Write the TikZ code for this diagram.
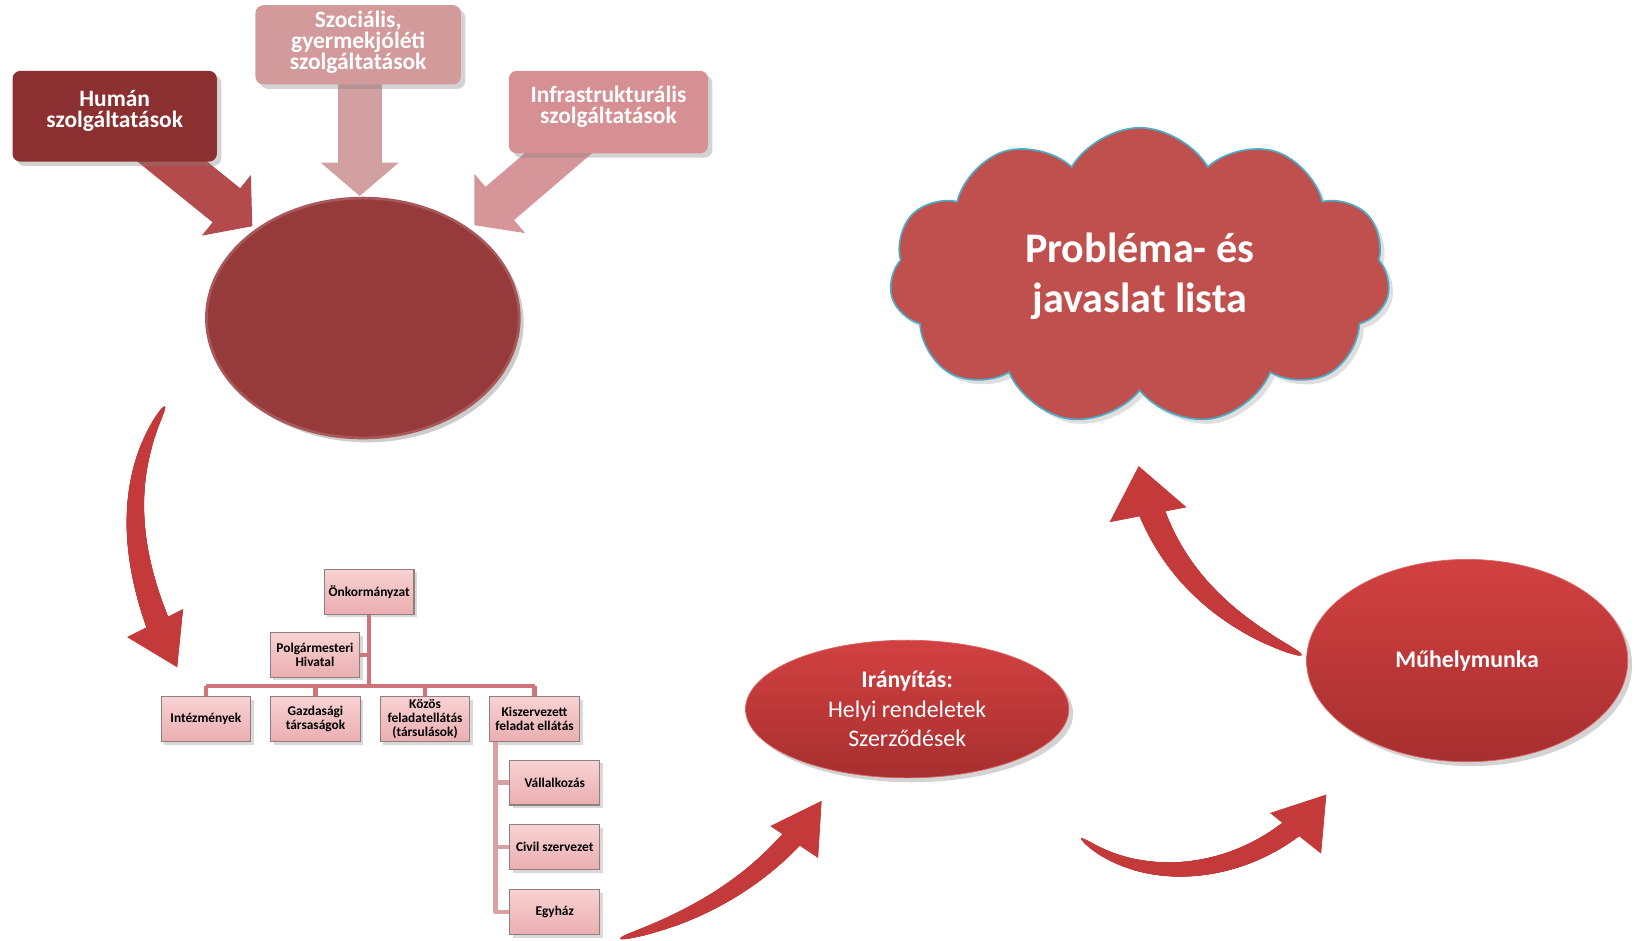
\documentclass[tikz,border=0pt]{standalone}
\usepackage{fontspec}
\setmainfont{Carlito}
\usetikzlibrary{positioning,shapes.geometric,shapes.symbols,arrows.meta,shadows,decorations.markings}
\definecolor{humanred}{HTML}{8B2F31}
\definecolor{humanarr}{HTML}{B34B4C}
\definecolor{szocpink}{HTML}{D39A9C}
\definecolor{szocarr}{HTML}{D3A0A2}
\definecolor{infrapink}{HTML}{D68F92}
\definecolor{infraarr}{HTML}{D69598}
\definecolor{discred}{HTML}{973A3B}
\definecolor{orgtop}{HTML}{F8D2D3}
\definecolor{orgbot}{HTML}{EBAEB0}
\definecolor{orgedge}{HTML}{8E7F7F}
\definecolor{orgline}{HTML}{CF7479}
\definecolor{subline}{HTML}{D9A0A3}
\definecolor{ovaltop}{HTML}{D24141}
\definecolor{ovalbot}{HTML}{A72F2F}
\definecolor{cloudfill}{HTML}{C0504D}
\definecolor{cloudedge}{HTML}{4BACC6}
\definecolor{arrowred}{HTML}{C43A3B}
\pgfdeclarelayer{back}
\pgfsetlayers{back,main}

\begin{document}
\begin{tikzpicture}[x=0.2mm,y=-0.2mm,
  topbox/.style={rounded corners=1.5mm, text=white, align=center, text depth=8pt, font=\bfseries\fontsize{12.8}{11.5}\selectfont, drop shadow={opacity=0.35}},
  blk/.style={line width=8.4mm, -{Triangle[length=6.4mm,width=14.6mm]}},
  disc/.style={ellipse, fill=discred, draw=discred!85!white, line width=1.5pt, minimum width=60mm, minimum height=46mm, drop shadow={opacity=0.4}},
  orgbox/.style={rectangle, draw=orgedge, line width=0.6pt, top color=orgtop, bottom color=orgbot, minimum width=17.2mm, minimum height=8.6mm, inner sep=1pt, align=center, font=\bfseries\fontsize{7.3}{7.8}\selectfont, drop shadow={opacity=0.3, shadow xshift=0.6mm, shadow yshift=-0.6mm}},
  orgln/.style={draw=orgline, line width=0.8mm, line join=round},
  subln/.style={draw=subline, line width=0.8mm, line join=round},
  oval/.style={ellipse, draw=ovaltop!80!white, top color=ovaltop, bottom color=ovalbot, text=white, align=center, font=\fontsize{13}{16}\selectfont, drop shadow={opacity=0.35}},
  cloudy/.style={cloud, cloud puffs=11, cloud puff arc=120, cloud ignores aspect, fill=cloudfill, draw=cloudedge, line width=0.9pt, minimum width=96mm, minimum height=57mm, text=white, align=center, font=\bfseries\fontsize{23}{27}\selectfont, drop shadow={opacity=0.25}},
  taper/.style 2 args={draw=arrowred, line width=0.4pt, -{Triangle[length=9.5mm,width=#2]},
     postaction={decorate, decoration={markings,
     mark=between positions 0 and -8mm step 0.4pt with {
       \pgfmathsetmacro\rad{0.3+#1*sqrt(\pgfkeysvalueof{/pgf/decoration/mark info/distance from start}/\pgfdecoratedpathlength)}
       \fill[arrowred] (0,0) circle[radius=\rad pt];}}}}]
\useasboundingbox (0,0) rectangle (1568,902);

\node[topbox, fill=humanred, minimum width=39.2mm, minimum height=17.4mm] (human) at (110,111.5) {Humán\\szolgáltatások};
\node[topbox, fill=szocpink, minimum width=39.4mm, minimum height=15.2mm, inner ysep=1pt, text depth=5pt] (szoc) at (343.5,43) {Szociális,\\gyermekjóléti\\szolgáltatások};
\node[topbox, fill=infrapink, minimum width=38.2mm, minimum height=15.8mm] (infra) at (583.5,107.5) {Infrastrukturális\\szolgáltatások};
\node[disc] (core) at (348,305) {};

\coordinate (tiph) at (242,217);
\coordinate (tips) at (345,188);
\coordinate (tipi) at (455,216);
\begin{pgfonlayer}{back}
\draw[blk, draw=humanarr] ([xshift=4mm,yshift=-3mm]human.center) -- (tiph);
\draw[blk, draw=szocarr] ([xshift=0.3mm]szoc.center) -- (tips);
\draw[blk, draw=infraarr] ([xshift=-4.6mm,yshift=-3.6mm]infra.center) -- (tipi);
\end{pgfonlayer}

\node[orgbox] (onk) at (354,567.5) {Önkormányzat};
\node[orgbox] (polg) at (302,628) {Polgármesteri\\Hivatal};
\node[orgbox] (intez) at (197.5,689.5) {Intézmények};
\node[orgbox, right=3.6mm of intez] (gazd) {Gazdasági\\társaságok};
\node[orgbox, right=3.6mm of gazd] (kozos) {Közös\\feladatellátás\\(társulások)};
\node[orgbox, right=3.6mm of kozos] (kisz) {Kiszervezett\\feladat ellátás};
\node[orgbox] (vall) at (532,750.5) {Vállalkozás};
\node[orgbox, below=3.6mm of vall] (civil) {Civil szervezet};
\node[orgbox, below=3.6mm of civil] (egyhaz) {Egyház};

\coordinate (bus) at (354,658);
\coordinate (spine) at ([xshift=1.2mm]kisz.south west);
\draw[orgln] (onk.south) -- (bus);
\draw[orgln] (polg.east) -- (polg.east -| onk.south);
\draw[orgln] (intez.north |- bus) -- (kisz.north |- bus);
\foreach \n in {intez,gazd,kozos,kisz}
  \draw[orgln] (\n.north) -- (\n.north |- bus);
\draw[subln] (spine) |- (egyhaz.west);
\foreach \n in {vall,civil}
  \draw[subln] (\n.west) -- (\n.west -| spine);

\node[oval, minimum width=62mm, minimum height=26.4mm] (iran) at (870,680) {\textbf{Irányítás:}\\Helyi rendeletek\\Szerződések};
\node[oval, minimum width=61.6mm, minimum height=38.8mm] (muhely) at (1407,633.5) {\textbf{Műhelymunka}};
\node[cloudy] (lista) at (1093,265) {Probléma- és\\javaslat lista};

\coordinate (a1) at (158,390);
\coordinate (b1) at (170,640);
\coordinate (a2) at (595,900);
\coordinate (b2) at (788,768);
\coordinate (a3) at (1037,804);
\coordinate (b3) at (1272,762);
\coordinate (a4) at (1248,628);
\coordinate (b4) at (1092,447);
\draw[taper={7}{12mm}] (a1) .. controls (110,470) and (130,560) .. (b1);
\draw[taper={6}{11mm}] (a2) .. controls (670,880) and (740,840) .. (b2);
\draw[taper={6}{12.5mm}] (a3) .. controls (1100,855) and (1210,840) .. (b3);
\draw[taper={7.5}{15mm}] (a4) .. controls (1170,595) and (1110,540) .. (b4);
\end{tikzpicture}
\end{document}
